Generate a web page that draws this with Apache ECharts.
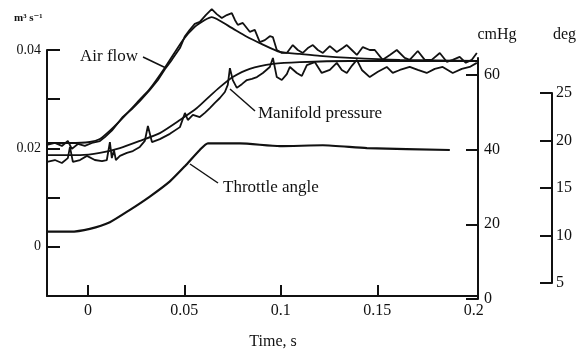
<!DOCTYPE html>
<html>
<head>
<meta charset="utf-8">
<script src="https://cdn.jsdelivr.net/npm/echarts@6/dist/echarts.min.js"></script>
<style>
  html, body { margin: 0; padding: 0; background: #fff; }
  #chart { width: 576px; height: 354px; }
</style>
</head>
<body>
<div id="chart"></div>
<script>
// Time axis (s)
const timeMin = -0.0212;
const timeMax = 0.2022;
const timeTicks = [0, 0.05, 0.1, 0.15];
const timeLabels = [0, 0.05, 0.1, 0.15, 0.2];

// Left axis: air flow (m^3/s)
const airTicks = [0, 0.01, 0.02, 0.03, 0.04];
const airLabels = [0, 0.02, 0.04];
// Right axis: manifold pressure (cmHg)
const mpTicks = [0, 20, 40, 60];
// Outer right axis: throttle angle (deg)
const degTicks = [5, 10, 15, 20, 25];

// Air flow, model
const airModelT = [-0.0212, -0.0093, 0.0010, 0.0062, 0.0114, 0.0181, 0.0269, 0.0321, 0.0399, 0.0492, 0.0554, 0.0606, 0.0642, 0.0736, 0.0819, 0.0902, 0.0995, 0.1098, 0.1202, 0.1358, 0.1617, 0.2020];
const airModel  = [0.0211, 0.0211, 0.0213, 0.0219, 0.0236, 0.0262, 0.0299, 0.0321, 0.0364, 0.0420, 0.0447, 0.0461, 0.0467, 0.0447, 0.0428, 0.0412, 0.0396, 0.0392, 0.0388, 0.0384, 0.0380, 0.0378];

// Air flow, measured
const airMeasT = [-0.0212, -0.0171, -0.0135, -0.0104, -0.0083, -0.0052, -0.0016, 0.0021, 0.0062, 0.0088,
  0.0124, 0.0181, 0.0228, 0.0269, 0.0321, 0.0363, 0.0399, 0.0435, 0.0477, 0.0503,
  0.0528, 0.0554, 0.0580, 0.0611, 0.0642, 0.0668, 0.0694, 0.0720, 0.0746, 0.0762,
  0.0777, 0.0803, 0.0839, 0.0865, 0.0891, 0.0917, 0.0943, 0.0959, 0.0979, 0.1005,
  0.1031, 0.1062, 0.1088, 0.1114, 0.1140, 0.1166, 0.1192, 0.1218, 0.1254, 0.1290,
  0.1321, 0.1342, 0.1368, 0.1394, 0.1425, 0.1461, 0.1487, 0.1528, 0.1565, 0.1601,
  0.1642, 0.1668, 0.1710, 0.1746, 0.1782, 0.1824, 0.1860, 0.1891, 0.1927, 0.1959,
  0.1990, 0.2016];
const airMeas = [0.0207, 0.0211, 0.0205, 0.0215, 0.0199, 0.0209, 0.0205, 0.0211, 0.0215, 0.0223,
  0.0236, 0.0264, 0.0280, 0.0296, 0.0319, 0.0339, 0.0361, 0.0380, 0.0404, 0.0428,
  0.0441, 0.0453, 0.0457, 0.0471, 0.0483, 0.0473, 0.0465, 0.0471, 0.0475, 0.0461,
  0.0451, 0.0455, 0.0437, 0.0441, 0.0416, 0.0420, 0.0428, 0.0426, 0.0400, 0.0394,
  0.0394, 0.0410, 0.0400, 0.0394, 0.0404, 0.0410, 0.0400, 0.0394, 0.0408, 0.0396,
  0.0404, 0.0410, 0.0400, 0.0390, 0.0406, 0.0400, 0.0400, 0.0380, 0.0390, 0.0400,
  0.0384, 0.0380, 0.0398, 0.0380, 0.0380, 0.0394, 0.0376, 0.0380, 0.0386, 0.0374,
  0.0380, 0.0394];

// Manifold pressure, model (cmHg)
const mpModelT = [-0.0212, -0.0041, 0.0062, 0.0166, 0.0269, 0.0373, 0.0477, 0.0565, 0.0632, 0.0684, 0.0751, 0.0839, 0.0959, 0.1098, 0.1358, 0.1617, 0.2020];
const mpModel  = [38.5, 38.5, 39.1, 40.4, 42.3, 44.4, 47.9, 51.1, 54.3, 56.7, 59.4, 61.6, 62.9, 63.4, 63.7, 63.7, 63.7];

// Manifold pressure, measured (cmHg)
const mpMeasT = [-0.0212, -0.0171, -0.0135, -0.0104, -0.0093, -0.0078, -0.0041, -0.0005, 0.0036, 0.0073,
  0.0098, 0.0114, 0.0124, 0.0135, 0.0145, 0.0166, 0.0202, 0.0233, 0.0269, 0.0295,
  0.0311, 0.0332, 0.0373, 0.0425, 0.0477, 0.0503, 0.0518, 0.0544, 0.0580, 0.0606,
  0.0632, 0.0658, 0.0684, 0.0710, 0.0725, 0.0736, 0.0751, 0.0772, 0.0798, 0.0824,
  0.0850, 0.0876, 0.0907, 0.0943, 0.0959, 0.0979, 0.1005, 0.1031, 0.1047, 0.1083,
  0.1109, 0.1135, 0.1176, 0.1212, 0.1254, 0.1290, 0.1316, 0.1342, 0.1368, 0.1394,
  0.1420, 0.1461, 0.1503, 0.1549, 0.1580, 0.1617, 0.1668, 0.1710, 0.1756, 0.1798,
  0.1839, 0.1891, 0.1938, 0.1979, 0.2016];
const mpMeas = [36.7, 37.2, 36.4, 37.7, 40.7, 36.7, 37.2, 38.3, 37.2, 36.9,
  37.2, 42.0, 37.7, 39.9, 37.2, 38.3, 39.1, 39.6, 40.7, 42.3,
  46.3, 42.0, 42.8, 44.2, 46.0, 49.8, 47.9, 49.3, 48.7, 49.8,
  51.1, 52.5, 53.8, 55.4, 57.3, 61.8, 58.6, 56.5, 57.5, 58.6,
  58.9, 59.4, 60.5, 62.1, 64.5, 59.4, 58.6, 60.2, 62.1, 60.5,
  59.7, 62.6, 63.4, 60.5, 61.3, 63.2, 61.3, 60.5, 62.4, 64.0,
  61.3, 59.4, 60.8, 62.1, 60.5, 61.3, 62.1, 61.3, 60.5, 61.6,
  62.1, 60.5, 61.6, 62.1, 63.2];

// Throttle angle (deg)
const throttleT   = [-0.0212, -0.0093, 0.0010, 0.0114, 0.0218, 0.0321, 0.0425, 0.0503, 0.0580, 0.0622, 0.0788, 0.0995, 0.1218, 0.1446, 0.1876];
const throttleDeg = [10.4, 10.4, 10.7, 11.4, 12.7, 14.1, 15.7, 17.3, 19.0, 19.7, 19.7, 19.4, 19.5, 19.2, 19.0];

const zip = (xs, ys) => xs.map((x, i) => [x, ys[i]]);

const SERIF = '"Liberation Serif", "DejaVu Serif", serif';
const INK = '#111';

const chart = echarts.init(document.getElementById('chart'), null, { renderer: 'canvas' });

function xAxisFor(gridIndex, visible) {
  return {
    type: 'value', gridIndex, min: timeMin, max: timeMax, show: visible,
    axisLine: { show: visible, onZero: false, lineStyle: { color: INK, width: 2 } },
    axisTick: { show: visible, inside: true, length: 11, customValues: timeTicks, lineStyle: { color: INK, width: 2 } },
    axisLabel: { show: visible, customValues: timeLabels, margin: 7, color: INK, fontFamily: SERIF, fontSize: 16,
      formatter: v => String(+v.toFixed(2)) },
    splitLine: { show: false }
  };
}

function yAxisFor(gridIndex, opts) {
  return Object.assign({
    type: 'value', gridIndex,
    axisLine: { show: true, onZero: false, lineStyle: { color: INK, width: 2 } },
    splitLine: { show: false }
  }, opts);
}

const lineSeries = (name, xi, yi, data, width, smooth) => ({
  name, type: 'line', xAxisIndex: xi, yAxisIndex: yi, data,
  showSymbol: false, symbol: 'none', clip: false, smooth,
  lineStyle: { color: INK, width }, silent: true, animation: false
});

chart.setOption({
  animation: false,
  backgroundColor: '#fff',
  grid: [
    { left: 47, top: 50, width: 431, height: 246 },
    { left: 47, top: 58, width: 431, height: 241 },
    { left: 47, top: 93, width: 431, height: 190 }
  ],
  xAxis: [xAxisFor(0, true), xAxisFor(1, false), xAxisFor(2, false)],
  yAxis: [
    yAxisFor(0, {
      position: 'left', min: -0.01, max: 0.04,
      axisTick: { inside: true, length: 13, customValues: airTicks, lineStyle: { color: INK, width: 2 } },
      axisLabel: { customValues: airLabels, margin: 6, color: INK, fontFamily: SERIF, fontSize: 14,
        formatter: v => v === 0 ? '0' : v.toFixed(2) }
    }),
    yAxisFor(1, {
      position: 'right', min: 0, max: 64.5,
      axisTick: { inside: true, length: 12, customValues: mpTicks, lineStyle: { color: INK, width: 2 } },
      axisLabel: { customValues: mpTicks, margin: 6, color: INK, fontFamily: SERIF, fontSize: 16 }
    }),
    yAxisFor(2, {
      position: 'right', offset: 74, min: 5, max: 25,
      axisTick: { inside: true, length: 12, customValues: degTicks, lineStyle: { color: INK, width: 2 } },
      axisLabel: { customValues: degTicks, margin: 4, color: INK, fontFamily: SERIF, fontSize: 16 }
    })
  ],
  series: [
    lineSeries('Air flow model', 0, 0, zip(airModelT, airModel), 1.8, 0.2),
    lineSeries('Air flow', 0, 0, zip(airMeasT, airMeas), 1.8, false),
    lineSeries('Manifold pressure model', 1, 1, zip(mpModelT, mpModel), 1.8, 0.2),
    lineSeries('Manifold pressure', 1, 1, zip(mpMeasT, mpMeas), 1.8, false),
    lineSeries('Throttle angle', 2, 2, zip(throttleT, throttleDeg), 2.2, 0.2)
  ],
  graphic: [
    // axis units
    { type: 'text', x: 14, y: 18, style: { text: 'm³ s⁻¹', font: 'bold 11px ' + SERIF, fill: INK, textVerticalAlign: 'middle' } },
    { type: 'text', x: 497, y: 35, style: { text: 'cmHg', font: '16px ' + SERIF, fill: INK, textAlign: 'center', textVerticalAlign: 'middle' } },
    { type: 'text', x: 553, y: 35, style: { text: 'deg', font: '16px ' + SERIF, fill: INK, textVerticalAlign: 'middle' } },
    { type: 'text', x: 273, y: 342, style: { text: 'Time, s', font: '16px ' + SERIF, fill: INK, textAlign: 'center', textVerticalAlign: 'middle' } },
    // curve annotations with leader lines
    { type: 'text', x: 80, y: 57, style: { text: 'Air flow', font: '17px ' + SERIF, fill: INK, textVerticalAlign: 'middle' } },
    { type: 'line', shape: { x1: 143, y1: 57, x2: 166, y2: 68 }, style: { stroke: INK, lineWidth: 1.5 } },
    { type: 'text', x: 258, y: 114, style: { text: 'Manifold pressure', font: '17px ' + SERIF, fill: INK, textVerticalAlign: 'middle' } },
    { type: 'line', shape: { x1: 230, y1: 89, x2: 255, y2: 111 }, style: { stroke: INK, lineWidth: 1.5 } },
    { type: 'text', x: 223, y: 188, style: { text: 'Throttle angle', font: '17px ' + SERIF, fill: INK, textVerticalAlign: 'middle' } },
    { type: 'line', shape: { x1: 190, y1: 164, x2: 218, y2: 183 }, style: { stroke: INK, lineWidth: 1.5 } }
  ]
});
</script>
</body>
</html>
